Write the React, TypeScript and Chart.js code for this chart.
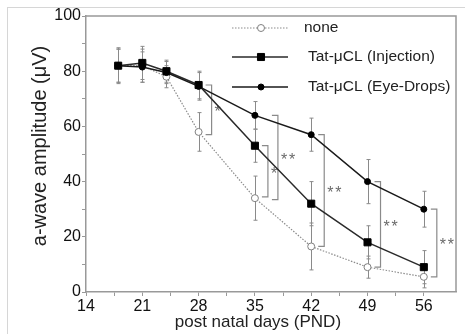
import React, { useEffect, useRef } from "react";
import { Chart, registerables } from "chart.js";

Chart.register(...registerables);

// ---- data ----
const days = [18, 21, 24, 28, 35, 42, 49, 56];
const noneVals = [82, 82, 78, 58, 34, 16.5, 9, 5.5];
const noneErr = [6, 6, 4, 7, 8, 8.5, 4, 4];
const injVals = [82, 83, 80, 75, 53, 32, 18, 9];
const injErr = [6.5, 6, 4, 5, 6, 8, 6, 6];
const eyeVals = [82, 81.5, 79.5, 74.5, 64, 57, 40, 30];
const eyeErr = [6, 5.5, 4, 5, 5, 6, 8, 6.5];

const seriesNames = ["none", "Tat-μCL (Injection)", "Tat-μCL (Eye-Drops)"];
const xTickLabels = [14, 21, 28, 35, 42, 49, 56];
const yTickLabels = [0, 20, 40, 60, 80, 100];

const sigDays = [28, 35, 35, 42, 49, 56];
const sigHigh = [75, 53, 64, 57, 40, 30];
const sigLow = [57, 34.5, 33.5, 16.5, 9, 5.5];
const sigMarks = ["*", "*", "**", "**", "**", "**"];
const sigNest = [0, 0, 1, 0, 0, 0];

const xTitle = "post natal days (PND)";
const yTitle = "a-wave amplitude (μV)";

const FONT = "'Liberation Sans', Arial, Helvetica, sans-serif";
const errSets = [noneErr, injErr, eyeErr];

const toPoints = (vals: number[]) => days.map((d, i) => ({ x: d, y: vals[i] }));

const decor = {
  id: "decor",
  beforeDatasetsDraw(chart: any) {
    const { ctx, chartArea: a, scales } = chart;
    const x = scales.x;
    const y = scales.y;
    ctx.save();
    // frame top & right
    ctx.strokeStyle = "#999";
    ctx.lineWidth = 1.5;
    ctx.beginPath();
    ctx.moveTo(a.left, a.top);
    ctx.lineTo(a.right, a.top);
    ctx.lineTo(a.right, a.bottom);
    ctx.stroke();

    // error bars
    ctx.strokeStyle = "#8a8a8a";
    ctx.lineWidth = 1;
    chart.data.datasets.forEach((ds: any, i: number) => {
      const errs = errSets[i];
      ds.data.forEach((p: any, j: number) => {
        const px = Math.round(x.getPixelForValue(p.x)) + 0.5;
        const t = y.getPixelForValue(p.y + errs[j]);
        const b = y.getPixelForValue(p.y - errs[j]);
        ctx.beginPath();
        ctx.moveTo(px, t);
        ctx.lineTo(px, b);
        ctx.moveTo(px - 2, t);
        ctx.lineTo(px + 2, t);
        ctx.moveTo(px - 2, b);
        ctx.lineTo(px + 2, b);
        ctx.stroke();
      });
    });

    // significance brackets
    ctx.strokeStyle = "#8a8a8a";
    ctx.lineWidth = 1.2;
    ctx.fillStyle = "#6a6a6a";
    ctx.font = `16px ${FONT}`;
    ctx.textBaseline = "middle";
    ctx.textAlign = "left";
    sigDays.forEach((d, i) => {
      const bx = x.getPixelForValue(d) + 13 + sigNest[i] * 10;
      const t = y.getPixelForValue(sigHigh[i]);
      const b = y.getPixelForValue(sigLow[i]);
      ctx.beginPath();
      ctx.moveTo(bx - 6, t);
      ctx.lineTo(bx, t);
      ctx.lineTo(bx, b);
      ctx.lineTo(bx - 6, b);
      ctx.stroke();
      const marks = sigMarks[i];
      let tx = bx + 3;
      for (const m of marks) {
        ctx.fillText(m, tx, (t + b) / 2 + 3);
        tx += 8;
      }
    });
    ctx.restore();
  },
  afterDraw(chart: any) {
    const { ctx, chartArea: a, scales } = chart;
    const x = scales.x;
    ctx.save();
    // legend
    const rows = [a.top + 12, a.top + 41, a.top + 71];
    const lx1 = a.right - 224;
    const lx2 = a.right - 168;
    const mx = a.right - 195;
    rows.forEach((ry, i) => {
      const ds = chart.data.datasets[i];
      ctx.strokeStyle = ds.borderColor;
      ctx.lineWidth = ds.borderWidth;
      ctx.setLineDash(ds.borderDash || []);
      ctx.beginPath();
      ctx.moveTo(lx1, ry);
      ctx.lineTo(lx2, ry);
      ctx.stroke();
      ctx.setLineDash([]);
      ctx.fillStyle = ds.pointBackgroundColor;
      ctx.strokeStyle = ds.pointBorderColor;
      ctx.lineWidth = 1;
      ctx.beginPath();
      if (ds.pointStyle === "rect") {
        const s = Math.SQRT1_2 * ds.pointRadius;
        ctx.rect(mx - s, ry - s, 2 * s, 2 * s);
      } else {
        ctx.arc(mx, ry, ds.pointRadius, 0, Math.PI * 2);
      }
      ctx.fill();
      ctx.stroke();
      ctx.fillStyle = "#222";
      ctx.font = `15.5px ${FONT}`;
      ctx.textAlign = "left";
      ctx.textBaseline = "middle";
      ctx.fillText(seriesNames[i], i === 0 ? a.right - 152 : a.right - 148, ry);
    });
    // x title
    ctx.fillStyle = "#222";
    ctx.font = `17px ${FONT}`;
    ctx.textAlign = "center";
    ctx.textBaseline = "middle";
    const cx = (x.getPixelForValue(xTickLabels[0]) + x.getPixelForValue(xTickLabels[xTickLabels.length - 1])) / 2 + 3;
    ctx.fillText(xTitle, cx, 322);
    // y title
    ctx.translate(40, (a.top + a.bottom) / 2 - 8);
    ctx.rotate(-Math.PI / 2);
    ctx.font = `20px ${FONT}`;
    ctx.fillText(yTitle, 0, 0);
    ctx.restore();
  },
};

export default function App() {
  const ref = useRef<HTMLCanvasElement | null>(null);
  useEffect(() => {
    if (!ref.current) return;
    const onStep = (v: number, step: number, base: number) =>
      Math.abs((v - base) / step - Math.round((v - base) / step)) < 1e-6;
    const chart = new Chart(ref.current, {
      type: "line",
      data: {
        datasets: [
          {
            label: seriesNames[0],
            data: toPoints(noneVals),
            borderColor: "#8c8c8c",
            borderWidth: 1.2,
            borderDash: [1.5, 1.5],
            pointStyle: "circle",
            pointRadius: 3.5,
            pointBackgroundColor: "#ffffff",
            pointBorderColor: "#808080",
            pointBorderWidth: 1,
            order: 3,
          } as any,
          {
            label: seriesNames[1],
            data: toPoints(injVals),
            borderColor: "#2a2a2a",
            borderWidth: 1.5,
            pointStyle: "rect",
            pointRadius: 5,
            pointBackgroundColor: "#000000",
            pointBorderColor: "#000000",
            pointBorderWidth: 1,
            order: 2,
          } as any,
          {
            label: seriesNames[2],
            data: toPoints(eyeVals),
            borderColor: "#1a1a1a",
            borderWidth: 1.5,
            pointStyle: "circle",
            pointRadius: 3,
            pointBackgroundColor: "#000000",
            pointBorderColor: "#000000",
            pointBorderWidth: 1,
            order: 1,
          } as any,
        ],
      },
      options: {
        animation: false,
        responsive: false,
        events: [],
        layout: { padding: { top: 16, right: 9, left: 0, bottom: 0 } },
        plugins: {
          legend: { display: false },
          tooltip: { enabled: false },
        },
        scales: {
          x: {
            type: "linear",
            min: 14,
            max: 60,
            afterFit: (s: any) => {
              s.height = 42;
            },
            border: { color: "#999", width: 1.5 },
            grid: {
              drawOnChartArea: false,
              drawTicks: true,
              tickLength: 4,
              tickColor: (c: any) => (onStep(c.tick.value, 3.5, 14) ? "#999" : "rgba(0,0,0,0)"),
            },
            ticks: {
              stepSize: 3.5,
              autoSkip: false,
              maxRotation: 0,
              padding: 1,
              color: "#111",
              font: { family: FONT, size: 16 },
              callback: (v: any) => (xTickLabels.includes(Number(v)) ? String(v) : ""),
            },
            title: { display: false, text: xTitle },
          },
          y: {
            type: "linear",
            min: 0,
            max: 100,
            afterFit: (s: any) => {
              s.width = 86;
            },
            border: { color: "#999", width: 1.5 },
            grid: {
              drawOnChartArea: false,
              drawTicks: true,
              tickLength: 4,
              tickColor: "#999",
            },
            ticks: {
              stepSize: 10,
              autoSkip: false,
              padding: 1,
              color: "#111",
              font: { family: FONT, size: 16 },
              callback: (v: any) => (yTickLabels.includes(Number(v)) ? String(v) : ""),
            },
            title: { display: false, text: yTitle },
          },
        },
      },
      plugins: [decor],
    });
    return () => chart.destroy();
  }, []);

  return (
    <div style={{ position: "fixed", left: 0, top: 0, width: 465, height: 334, background: "#fff" }}>
      <div
        style={{
          position: "absolute",
          left: 7,
          top: 7,
          right: 0,
          bottom: 0,
          borderTop: "1px solid #d6d6d6",
          borderLeft: "1px solid #d6d6d6",
        }}
      />
      <canvas
        ref={ref}
        width={465}
        height={334}
        style={{ position: "absolute", left: 0, top: 0, width: 465, height: 334 }}
      />
    </div>
  );
}
